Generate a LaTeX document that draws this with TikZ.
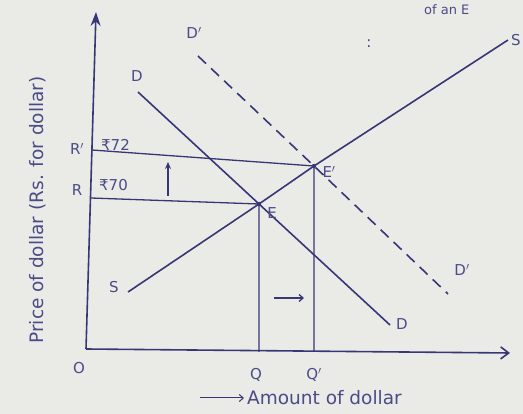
\documentclass[tikz,border=0pt]{standalone}
\usepackage{fontspec}
\setmainfont{DejaVu Sans}
\usetikzlibrary{arrows.meta}
\definecolor{paper}{RGB}{234,234,230}
\definecolor{ink}{RGB}{55,55,120}
\definecolor{inkl}{RGB}{75,75,135}
\tikzset{
  curve/.style={ink, line width=1.6pt},
  guide/.style={ink, line width=1.3pt},
  lbl/.style={inkl, font=\fontsize{15}{17}\selectfont, inner sep=0pt},
  biglbl/.style={inkl, font=\fontsize{18.5}{20}\selectfont, inner sep=0pt},
}
\begin{document}
\begin{tikzpicture}[x=1pt,y=-1pt]
\fill[paper] (0,0) rectangle (523,414);
\useasboundingbox (0,0) rectangle (523,414);
% key points
\coordinate (O) at (86,349);
\coordinate (Ytop) at (96,12);
\coordinate (Xend) at (510,353);
\coordinate (E) at (259,204);
\coordinate (Ep) at (314,166);
\coordinate (Sa) at (128,292);
\coordinate (Sb) at (508,40);
\coordinate (Da) at (138,92);
\coordinate (Db) at (390,325);
\coordinate (Dpa) at (198,56);
\coordinate (Dpb) at (448,294);
\coordinate (R) at (91,198);
\coordinate (Rp) at (92,150);
\coordinate (Q) at (259,352);
\coordinate (Qp) at (314,352);
% axes
\draw[curve, -{Stealth[length=14pt,width=10pt]}] (O) -- (Ytop);
\draw[curve, -{Straight Barb[length=8pt,width=12pt]}] (O) -- (Xend);
% curves
\draw[curve] (Sa) -- (E) -- (Ep) -- (Sb);
\draw[curve] (Da) -- (E) -- (Db);
\draw[curve, dashed, dash pattern=on 11pt off 7pt] (Dpa) -- (Ep) -- (Dpb);
% guide lines
\draw[guide] (Rp) -- (Ep) -- (Qp);
\draw[guide] (R) -- (E) -- (Q);
\fill[ink] (E) circle (2.2pt);
\fill[ink] (Ep) circle (2.2pt);
% shift arrows
\coordinate (ua) at (168,196);
\coordinate (ub) at (168,162);
\draw[guide, -{Stealth[length=7pt,width=6pt]}] (ua) -- (ub);
\coordinate (ra) at (274,298);
\coordinate (rb) at (304,298);
\draw[guide, -{Straight Barb[length=4pt,width=7pt]}] (ra) -- (rb);
\coordinate (xa) at (200,398);
\coordinate (xb) at (244,398);
\draw[guide, line width=1pt, -{Straight Barb[length=4pt,width=7pt]}] (xa) -- (xb);
% labels
\node[lbl] (lO) at (79,368) {O};
\node[lbl] (lQ) at (256,375) {Q};
\node[lbl] (lQp) at (314,375) {Q$'$};
\node[lbl] (lR) at (77,190) {R};
\node[lbl] (lRp) at (77,149) {R$'$};
\node[lbl, anchor=west] (v72) at (101,145) {₹72};
\node[lbl, anchor=west] (v70) at (99,185) {₹70};
\node[lbl] (lE) at (272,213) {E};
\node[lbl] (lEp) at (329,172) {E$'$};
\node[lbl] (lSa) at (114,287) {S};
\node[lbl] (lSb) at (516,40) {S};
\node[lbl] (lDa) at (137,76) {D};
\node[lbl] (lDb) at (402,324) {D};
\node[lbl] (lDpa) at (194,33) {D$'$};
\node[lbl] (lDpb) at (462,270) {D$'$};
\node[lbl] (colon) at (369,44) {:};
\node[lbl, anchor=west, font=\fontsize{13}{15}\selectfont] (top) at (424,10) {of an E};
\node[biglbl, rotate=90] (ylab) at (38,210) {Price of dollar (Rs. for dollar)};
\node[biglbl, anchor=west] (xlab) at (247,398) {Amount of dollar};
\end{tikzpicture}
\end{document}
